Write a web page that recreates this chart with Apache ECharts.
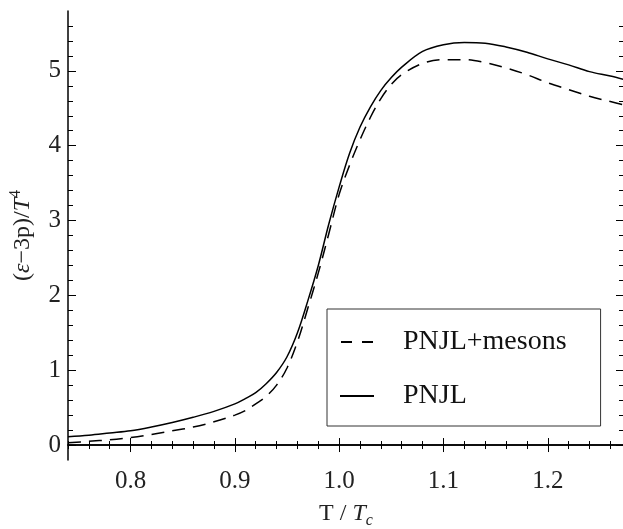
<!DOCTYPE html>
<html>
<head>
<meta charset="utf-8">
<script src="https://cdn.jsdelivr.net/npm/echarts@6/dist/echarts.min.js"></script>
<style>
  html, body { margin: 0; padding: 0; background: #fff; }
  #chart { width: 623px; height: 529px; }
</style>
</head>
<body>
<div id="chart"></div>
<script>
// T / Tc sample points (shared by both curves)
var temps = [0.74, 0.76, 0.78, 0.80, 0.82, 0.84, 0.86, 0.88, 0.90, 0.91, 0.92, 0.93,
  0.94, 0.95, 0.96, 0.97, 0.98, 0.99, 1.00, 1.01, 1.02, 1.03, 1.04, 1.05, 1.06,
  1.08, 1.10, 1.12, 1.14, 1.16, 1.18, 1.20, 1.22, 1.24, 1.26, 1.274];

// (e-3p)/T^4, PNJL (solid)
var pnjl = [0.11, 0.13, 0.16, 0.19, 0.24, 0.30, 0.37, 0.45, 0.55, 0.62, 0.70, 0.82,
  0.97, 1.18, 1.50, 1.93, 2.40, 2.95, 3.45, 3.90, 4.25, 4.52, 4.74, 4.91, 5.05,
  5.26, 5.35, 5.38, 5.37, 5.32, 5.25, 5.16, 5.08, 4.99, 4.93, 4.88];

// (e-3p)/T^4, PNJL+mesons (dashed)
var pnjlMesons = [0.03, 0.05, 0.07, 0.10, 0.14, 0.19, 0.24, 0.31, 0.40, 0.46, 0.55, 0.65,
  0.80, 1.03, 1.38, 1.83, 2.30, 2.82, 3.35, 3.74, 4.08, 4.38, 4.63, 4.82, 4.95,
  5.10, 5.15, 5.15, 5.11, 5.04, 4.95, 4.84, 4.75, 4.66, 4.59, 4.54];

var xTicks = [0.8, 0.9, 1.0, 1.1, 1.2];
var xMinorTicks = [0.74, 0.76, 0.78, 0.82, 0.84, 0.86, 0.88, 0.92, 0.94, 0.96, 0.98,
  1.02, 1.04, 1.06, 1.08, 1.12, 1.14, 1.16, 1.18, 1.22, 1.24, 1.26];
var yTicks = [0, 1, 2, 3, 4, 5];
var yMinorTicks = [0.2, 0.4, 0.6, 0.8, 1.2, 1.4, 1.6, 1.8, 2.2, 2.4, 2.6, 2.8,
  3.2, 3.4, 3.6, 3.8, 4.2, 4.4, 4.6, 4.8, 5.2, 5.4, 5.6];

var X_MIN = 0.74, X_MAX = 1.2731, Y_MIN = -0.2, Y_MAX = 5.8;
var FONT = '"Liberation Serif", "DejaVu Serif", serif';

function pairs(ys) {
  return temps.map(function (t, i) { return [t, ys[i]]; });
}

// one axis: either the major ticks (with or without labels) or the minor ticks
function xAx(pos, vals, len, labels, line) {
  return {
    type: 'value', position: pos, min: X_MIN, max: X_MAX,
    axisLine: { show: line, lineStyle: { color: '#000', width: 1.5 } },
    axisTick: { show: true, inside: true, length: len, customValues: vals,
      lineStyle: { color: '#000', width: 1 } },
    axisLabel: labels ? {
      show: true, customValues: vals, margin: 9,
      fontFamily: FONT, fontSize: 25, color: '#222',
      formatter: function (v) { return v.toFixed(1); }
    } : { show: false },
    splitLine: { show: false }
  };
}

function yAx(pos, vals, len, labels, line) {
  return {
    type: 'value', position: pos, min: Y_MIN, max: Y_MAX,
    axisLine: { show: line, lineStyle: { color: '#000', width: 1.5 } },
    axisTick: { show: true, inside: true, length: len, customValues: vals,
      lineStyle: { color: '#000', width: 1 } },
    axisLabel: labels ? {
      show: true, customValues: vals, margin: 7,
      fontFamily: FONT, fontSize: 25, color: '#222'
    } : { show: false },
    splitLine: { show: false }
  };
}

var chart = echarts.init(document.getElementById('chart'), null, { renderer: 'canvas' });

var xMain = xAx('bottom', xTicks, 7, true, true);
xMain.name = 'T / {it|T}{sub|c}';
xMain.nameLocation = 'middle';
xMain.nameGap = 37;
xMain.nameTextStyle = {
  fontFamily: FONT, fontSize: 24, color: '#222', lineHeight: 30,
  rich: {
    it: { fontFamily: FONT, fontSize: 24, fontStyle: 'italic', color: '#222', lineHeight: 30 },
    sub: { fontFamily: FONT, fontSize: 16, fontStyle: 'italic', color: '#222', lineHeight: 30, verticalAlign: 'bottom' }
  }
};

var yMain = yAx('left', yTicks, 8, true, true);
yMain.name = '({it|ε}\u22123p)/{it|T}{sup|4}';
yMain.nameLocation = 'middle';
yMain.nameGap = 29;
yMain.nameTextStyle = {
  fontFamily: FONT, fontSize: 24, color: '#222', lineHeight: 30,
  rich: {
    it: { fontFamily: FONT, fontSize: 24, fontStyle: 'italic', color: '#222', lineHeight: 30 },
    sup: { fontFamily: FONT, fontSize: 16, color: '#222', lineHeight: 30, verticalAlign: 'top' }
  }
};

var option = {
  animation: false,
  backgroundColor: '#fff',
  grid: { left: 68, top: 11, width: 556, height: 449, containLabel: false, outerBoundsMode: 'none' },
  xAxis: [
    xMain,
    xAx('bottom', xMinorTicks, 4, false, false),
    xAx('top', xTicks, 7, false, true),
    xAx('top', xMinorTicks, 4, false, false)
  ],
  yAxis: [
    yMain,
    yAx('left', yMinorTicks, 5, false, false),
    yAx('right', yTicks, 8, false, true),
    yAx('right', yMinorTicks, 5, false, false)
  ],
  legend: {
    orient: 'vertical',
    left: 327, top: 309,
    padding: [18, 34, 15, 13],
    itemGap: 24,
    itemWidth: 34, itemHeight: 2,
    backgroundColor: '#fff',
    borderColor: '#333', borderWidth: 1,
    textStyle: { fontFamily: FONT, fontSize: 28, color: '#111', lineHeight: 30, padding: [0, 0, 0, 24] },
    data: [
      { name: 'PNJL+mesons', icon: 'path://M0,0h11v2h-11zM21,0h11v2h-11z', itemStyle: { color: '#000' } },
      { name: 'PNJL', icon: 'path://M0,0h34v2h-34z', itemStyle: { color: '#000' } }
    ]
  },
  series: [
    {
      name: 'PNJL+mesons', type: 'line', data: pairs(pnjlMesons),
      xAxisIndex: 0, yAxisIndex: 0, smooth: 0.35,
      showSymbol: false, symbol: 'none',
      lineStyle: { color: '#000', width: 1.5, type: [13, 8] },
      itemStyle: { color: '#000' }
    },
    {
      name: 'PNJL', type: 'line', data: pairs(pnjl),
      xAxisIndex: 0, yAxisIndex: 0, smooth: 0.35,
      showSymbol: false, symbol: 'none',
      lineStyle: { color: '#000', width: 1.5 },
      itemStyle: { color: '#000' }
    }
  ]
};

chart.setOption(option);
</script>
</body>
</html>
